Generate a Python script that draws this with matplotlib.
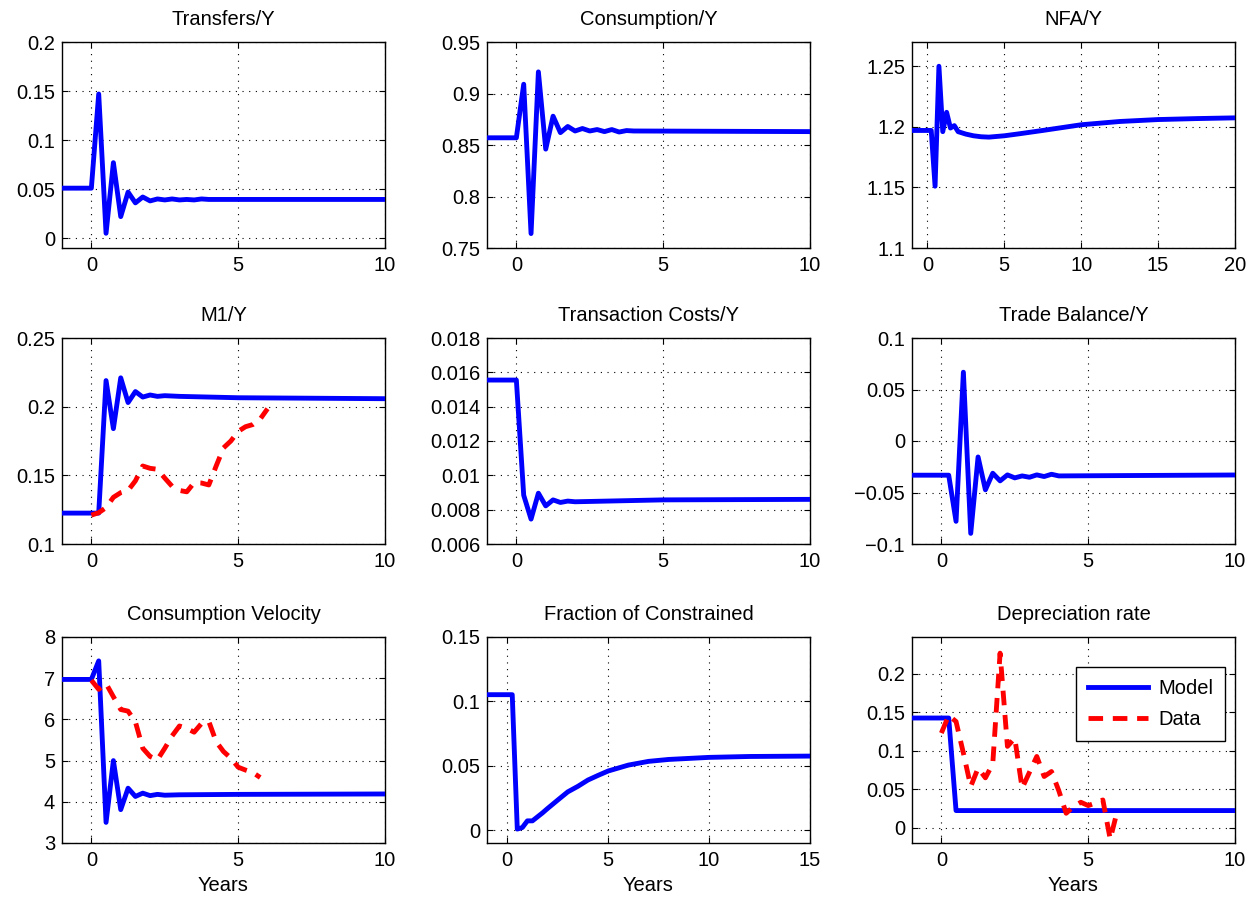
import numpy as np
import matplotlib
matplotlib.use("Agg")
import matplotlib.pyplot as plt
from matplotlib.ticker import FuncFormatter

plt.rcParams['font.family'] = ['Liberation Sans', 'DejaVu Sans']
plt.rcParams['font.size'] = 14.5

# ---- data (years after the shock) ----
t_transfers = [-1, 0, 0.25, 0.5, 0.75, 1.0, 1.25, 1.5, 1.75, 2.0, 2.25, 2.5,
               2.75, 3.0, 3.25, 3.5, 3.75, 4.0, 10]
transfers = [0.051, 0.051, 0.147, 0.005, 0.077, 0.022, 0.047, 0.036, 0.042,
             0.038, 0.040, 0.039, 0.040, 0.039, 0.0395, 0.039, 0.040, 0.0395,
             0.0395]

t_cons = [-1, 0, 0.25, 0.5, 0.75, 1.0, 1.25, 1.5, 1.75, 2.0, 2.25, 2.5,
          2.75, 3.0, 3.25, 3.5, 3.75, 4.0, 10]
consumption = [0.857, 0.857, 0.909, 0.764, 0.921, 0.846, 0.878, 0.862, 0.868,
               0.8636, 0.866, 0.8636, 0.865, 0.863, 0.865, 0.8626, 0.864,
               0.8636, 0.863]

t_nfa = [-1, 0, 0.25, 0.5, 0.75, 1.0, 1.25, 1.5, 1.75, 2.0, 2.5, 3.0, 3.5,
         4.0, 5, 6, 7.5, 10, 12.5, 15, 17.5, 20]
nfa = [1.197, 1.197, 1.197, 1.151, 1.250, 1.196, 1.212, 1.199, 1.201, 1.196,
       1.194, 1.1926, 1.1918, 1.1915, 1.1926, 1.1943, 1.197, 1.2017, 1.2044,
       1.206, 1.2068, 1.2074]

t_m1 = [-1, 0, 0.25, 0.5, 0.75, 1.0, 1.25, 1.5, 1.75, 2.0, 2.25, 2.5, 3.0,
        4.0, 5.0, 10]
m1 = [0.1225, 0.1225, 0.1225, 0.219, 0.184, 0.221, 0.203, 0.211, 0.207,
      0.2085, 0.2075, 0.208, 0.2075, 0.207, 0.2065, 0.2058]

t_m1_data = [0, 0.25, 0.5, 0.75, 1.0, 1.25, 1.5, 1.75, 2.0, 2.25, 2.5, 2.75,
             3.0, 3.25, 3.5, 3.75, 4.0, 4.25, 4.5, 4.75, 5.0, 5.25, 5.5, 5.75,
             6.0]
m1_data = [0.121, 0.1228, 0.1265, 0.134, 0.1374, 0.139, 0.146, 0.1568, 0.1551,
           0.1544, 0.148, 0.142, 0.139, 0.138, 0.1447, 0.1444, 0.143, 0.1568,
           0.170, 0.175, 0.182, 0.1854, 0.187, 0.191, 0.1985]

t_tc = [-1, 0, 0.25, 0.5, 0.75, 1.0, 1.25, 1.5, 1.75, 2.0, 5, 10]
trans_costs = [0.01555, 0.01555, 0.00884, 0.00745, 0.00896, 0.00822, 0.00857,
               0.00842, 0.0085, 0.00846, 0.00857, 0.0086]

t_tb = [-1, 0, 0.25, 0.5, 0.75, 1.0, 1.25, 1.5, 1.75, 2.0, 2.25, 2.5, 2.75,
        3.0, 3.25, 3.5, 3.75, 4.0, 10]
trade_bal = [-0.0332, -0.0332, -0.0332, -0.078, 0.0668, -0.0897, -0.0155,
             -0.0474, -0.0313, -0.0387, -0.0329, -0.0358, -0.0339, -0.0352,
             -0.0329, -0.0345, -0.0323, -0.0339, -0.033]

t_vel = [-1, 0, 0.25, 0.5, 0.75, 1.0, 1.25, 1.5, 1.75, 2.0, 2.25, 2.5, 3.0,
         5, 10]
velocity = [6.97, 6.97, 7.42, 3.5, 5.0, 3.81, 4.33, 4.13, 4.21, 4.15, 4.18,
            4.16, 4.17, 4.18, 4.19]

t_vel_data = [0, 0.25, 0.5, 0.75, 1.0, 1.25, 1.5, 1.75, 2.0, 2.25, 2.5, 2.75,
              3.0, 3.25, 3.5, 3.75, 4.0, 4.25, 4.5, 4.75, 5.0, 5.25, 5.5, 5.75]
velocity_data = [6.95, 6.73, 6.87, 6.55, 6.24, 6.2, 5.94, 5.3, 5.1, 5.02, 5.3,
                 5.6, 5.84, 5.78, 5.69, 5.9, 5.95, 5.46, 5.22, 5.06, 4.84,
                 4.77, 4.71, 4.59]

t_frac = [-1, 0, 0.25, 0.5, 0.75, 1.0, 1.25, 1.5, 1.75, 2.0, 2.5, 3, 3.5, 4,
          4.5, 5, 6, 7, 8, 10, 12, 15]
fraction = [0.1052, 0.1052, 0.1052, 0.0008, 0.002, 0.0072, 0.0072, 0.0103,
            0.0134, 0.0168, 0.0233, 0.0297, 0.034, 0.0389, 0.0425, 0.0459,
            0.0505, 0.0534, 0.0549, 0.0565, 0.0572, 0.0575]

t_dep = [-1, 0, 0.25, 0.5, 10]
depreciation = [0.1426, 0.1426, 0.1426, 0.0222, 0.0222]

t_dep_data = [0, 0.25, 0.5, 0.75, 1.0, 1.25, 1.5, 1.75, 2.0, 2.25, 2.5, 2.75,
              3.0, 3.25, 3.5, 3.75, 4.0, 4.25, 4.5, 4.75, 5.0, 5.25, 5.5, 5.75,
              6.0]
dep_data = [0.123, 0.146, 0.138, 0.097, 0.0535, 0.0774, 0.0648, 0.083, 0.227,
            0.1057, 0.1165, 0.0513, 0.072, 0.0926, 0.0665, 0.073, 0.048,
            0.0187, 0.0274, 0.033, 0.0287, 0.032, 0.036, -0.015, 0.023]

# title, model, data, xlim, xticks, ylim, yticks
panels = [
    ("Transfers/Y", (t_transfers, transfers), None, (-1, 10), [0, 5, 10],
     (-0.01, 0.2), [0, 0.05, 0.1, 0.15, 0.2]),
    ("Consumption/Y", (t_cons, consumption), None, (-1, 10), [0, 5, 10],
     (0.75, 0.95), [0.75, 0.8, 0.85, 0.9, 0.95]),
    ("NFA/Y", (t_nfa, nfa), None, (-1, 20), [0, 5, 10, 15, 20],
     (1.1, 1.27), [1.1, 1.15, 1.2, 1.25]),
    ("M1/Y", (t_m1, m1), (t_m1_data, m1_data), (-1, 10), [0, 5, 10],
     (0.1, 0.25), [0.1, 0.15, 0.2, 0.25]),
    ("Transaction Costs/Y", (t_tc, trans_costs), None, (-1, 10), [0, 5, 10],
     (0.006, 0.018), [0.006, 0.008, 0.01, 0.012, 0.014, 0.016, 0.018]),
    ("Trade Balance/Y", (t_tb, trade_bal), None, (-1, 10), [0, 5, 10],
     (-0.1, 0.1), [-0.1, -0.05, 0, 0.05, 0.1]),
    ("Consumption Velocity", (t_vel, velocity), (t_vel_data, velocity_data),
     (-1, 10), [0, 5, 10], (3, 8), [3, 4, 5, 6, 7, 8]),
    ("Fraction of Constrained", (t_frac, fraction), None, (-1, 15),
     [0, 5, 10, 15], (-0.01, 0.15), [0, 0.05, 0.1, 0.15]),
    ("Depreciation rate", (t_dep, depreciation), (t_dep_data, dep_data),
     (-1, 10), [0, 5, 10], (-0.02, 0.248), [0, 0.05, 0.1, 0.15, 0.2]),
]


def fmt(v, pos):
    s = "%g" % round(v, 6)
    if s in ("-0", "-0.0"):
        s = "0"
    return s.replace("-", "\u2212")


W, H = 1252, 901
fig = plt.figure(figsize=(W / 100., H / 100.), dpi=100)

lefts = [62, 487, 912]
tops = [42, 338, 637]
aw, ah = 323, 206

for i, (title, model, data, xlim, xt, ylim, yt) in enumerate(panels):
    r, c = divmod(i, 3)
    ax = fig.add_axes([lefts[c] / W, 1 - (tops[r] + ah) / H, aw / W, ah / H])
    ax.plot(model[0], model[1], color="blue", lw=3.5, label="Model",
            solid_joinstyle="round", zorder=3)
    if data is not None:
        ax.plot(data[0], data[1], color="red", lw=3.5, ls="--",
                dashes=(3.0, 2.0), label="Data", zorder=3)
    ax.set_xlim(*xlim)
    ax.set_ylim(*ylim)
    ax.set_xticks(xt)
    ax.set_yticks(yt)
    ax.xaxis.set_major_formatter(FuncFormatter(fmt))
    ax.yaxis.set_major_formatter(FuncFormatter(fmt))
    ax.grid(True, color="black", ls=(0, (1, 5)), lw=0.8)
    ax.tick_params(direction="in", length=4, width=0.8, top=True,
                   right=True, labelsize=14.5)
    ax.tick_params(axis="y", pad=5)
    ax.tick_params(axis="x", pad=6)
    for sp in ax.spines.values():
        sp.set_linewidth(1.0)
    ax.set_title(title, fontsize=14.5, pad=12)
    if r == 2:
        ax.set_xlabel("Years", fontsize=14.5, labelpad=4)
    if i == 8:
        leg = ax.legend(loc="upper right", bbox_to_anchor=(0.970, 0.855),
                        borderaxespad=0, fancybox=False, framealpha=1,
                        edgecolor="black", handlelength=3.0,
                        handletextpad=0.5, fontsize=14.5, borderpad=0.6,
                        labelspacing=0.6)
        leg.get_frame().set_linewidth(1.0)

fig.savefig("out.png", dpi=100)
